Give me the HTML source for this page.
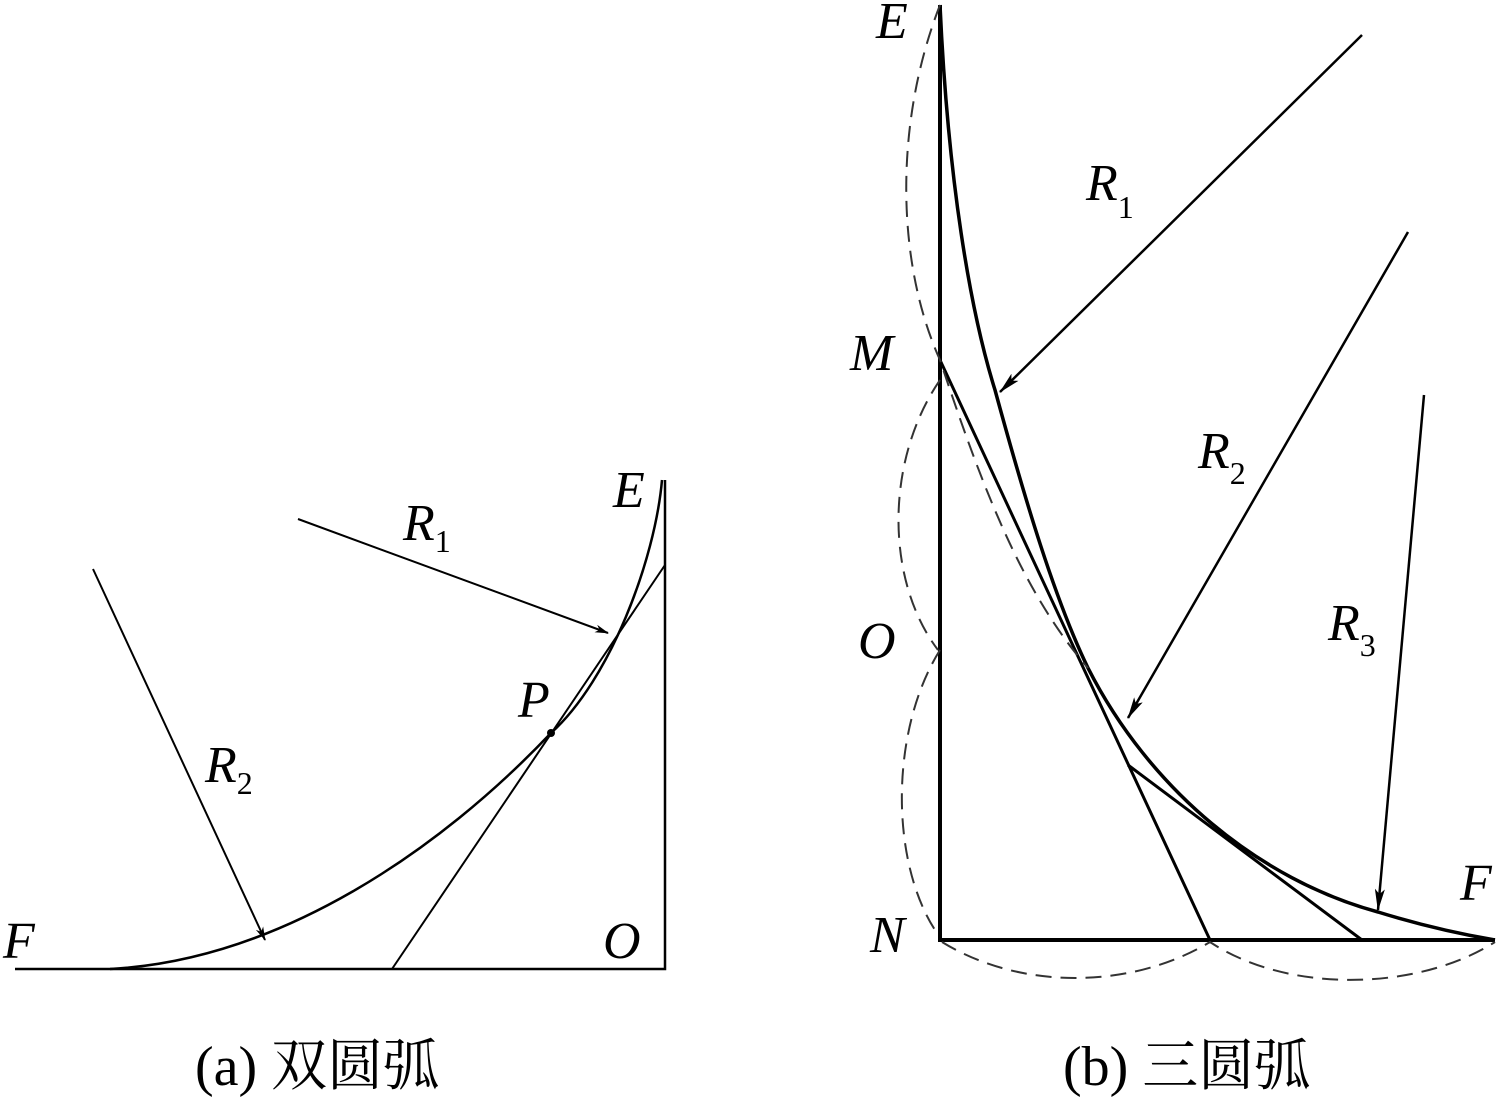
<!DOCTYPE html>
<html><head><meta charset="utf-8"><style>
html,body{margin:0;padding:0;background:#fff;}
svg{display:block}
.l{font-family:"Liberation Serif",serif;font-style:italic;font-size:52px;fill:#000}
.s{font-family:"Liberation Serif",serif;font-size:32px;fill:#000;font-style:normal}
.c{font-family:"Liberation Serif","Noto Serif CJK SC",serif;font-size:56px;fill:#000}
</style></head><body>
<svg width="1503" height="1100" viewBox="0 0 1503 1100" xmlns="http://www.w3.org/2000/svg">
<defs><marker id="a" markerWidth="14" markerHeight="8" refX="13" refY="4" orient="auto" markerUnits="userSpaceOnUse"><path d="M0,0 L14,4 L0,8 L4,4 Z" fill="#000"/></marker>
<marker id="b" markerWidth="22" markerHeight="10" refX="21" refY="5" orient="auto" markerUnits="userSpaceOnUse"><path d="M0,0 L22,5 L0,10 L5,5 Z" fill="#000"/></marker></defs>
<!-- (a) -->
<g stroke="#000" fill="none">
<path d="M15,969 H665 V480" stroke-width="2.5"/>
<path d="M662,480 C655,560 610,680 551,733 C440,850 280,960 110,969" stroke-width="2.5"/>
<path d="M665,565 L392,969" stroke-width="2"/>
<path d="M298,519 L608,633" stroke-width="2" marker-end="url(#a)"/>
<path d="M93,569 L265,940" stroke-width="2" marker-end="url(#a)"/>
</g>
<circle cx="551" cy="733" r="4" fill="#000"/>
<text class="l" x="613" y="507">E</text>
<text class="l" x="403" y="540">R<tspan class="s" dy="12">1</tspan></text>
<text class="l" x="518" y="717">P</text>
<text class="l" x="205" y="782">R<tspan class="s" dy="12">2</tspan></text>
<text class="l" x="3" y="958">F</text>
<text class="l" x="603" y="958">O</text>
<text class="c" x="195" y="1085">(a) 双圆弧</text>
<!-- (b) -->
<g stroke="#000" fill="none">
<path d="M940,5 V940 H1495" stroke-width="4"/>
<path d="M940,5 C948,180 970,310 995,390 C1025,500 1055,600 1088,668 C1150,790 1260,880 1378,912 C1420,925 1460,934 1495,940" stroke-width="3.5"/>
<path d="M940,360 L1210,940" stroke-width="3"/>
<path d="M1128,765 L1362,940" stroke-width="3"/>
<path d="M1362,35 L1000,392" stroke-width="2.5" marker-end="url(#b)"/>
<path d="M1408,232 L1128,718" stroke-width="2.5" marker-end="url(#b)"/>
<path d="M1424,395 L1378,910" stroke-width="2.5" marker-end="url(#b)"/>
</g>
<g stroke="#333" fill="none" stroke-width="2" stroke-dasharray="16,9">
<path d="M940,5 C895,120 895,260 940,360 C980,480 1020,590 1088,668"/>
<path d="M940,380 C885,460 885,580 938,650"/>
<path d="M940,650 C890,730 890,860 935,930"/>
<path d="M942,942 C1020,990 1130,990 1210,942 C1290,995 1420,990 1495,942"/>
</g>
<text class="l" x="876" y="38">E</text>
<text class="l" x="1086" y="200">R<tspan class="s" dy="18">1</tspan></text>
<text class="l" x="850" y="370">M</text>
<text class="l" x="1198" y="468">R<tspan class="s" dy="16">2</tspan></text>
<text class="l" x="858" y="658">O</text>
<text class="l" x="1328" y="640">R<tspan class="s" dy="16">3</tspan></text>
<text class="l" x="870" y="952">N</text>
<text class="l" x="1460" y="900">F</text>
<text class="c" x="1063" y="1085">(b) 三圆弧</text>
</svg>
</body></html>
